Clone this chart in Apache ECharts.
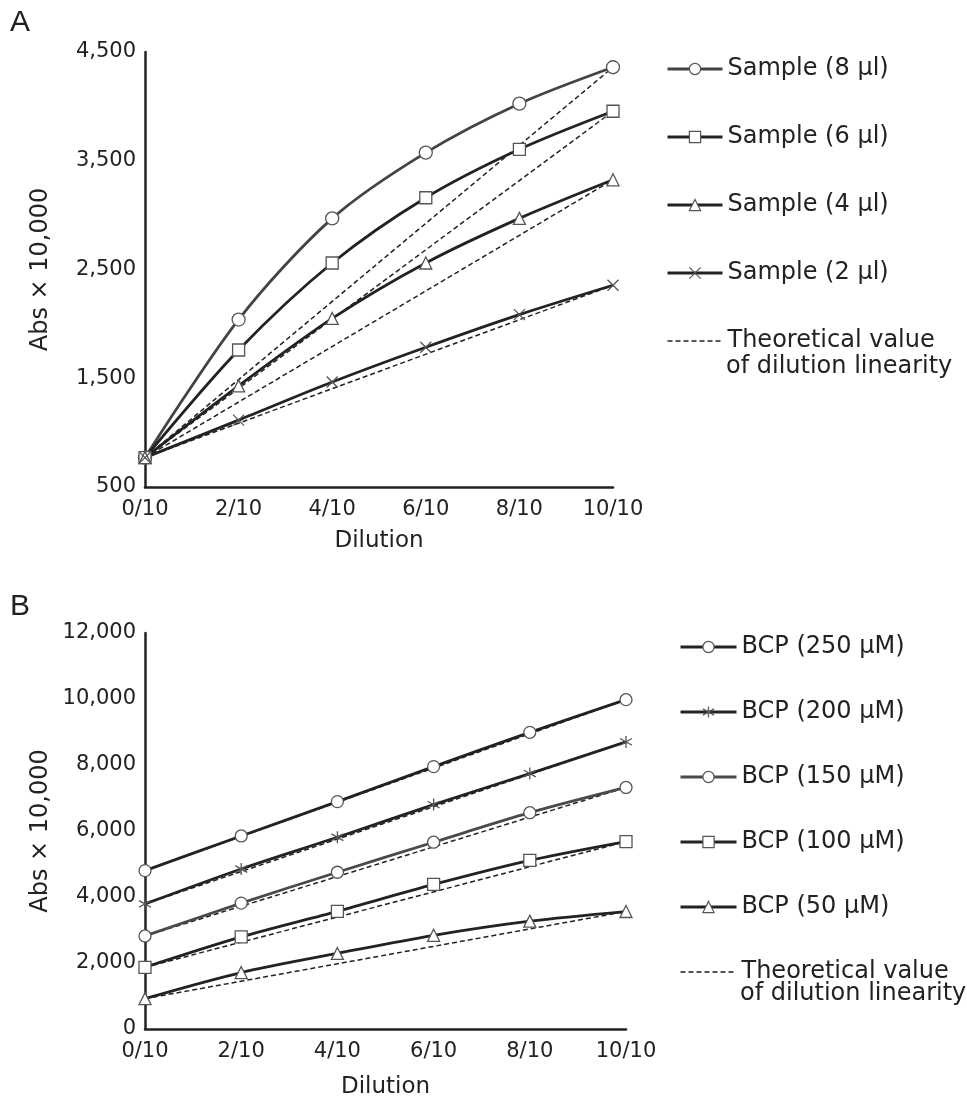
<!DOCTYPE html>
<html>
<head>
<meta charset="utf-8">
<script src="https://cdn.jsdelivr.net/npm/echarts@6/dist/echarts.min.js"></script>
<style>
  html, body { margin: 0; padding: 0; background: #ffffff; }
  #chart { width: 967px; height: 1100px; }
</style>
</head>
<body>
<div id="chart"></div>
<script>
// Dilution steps shared by both panels
const dilutions = ['0/10', '2/10', '4/10', '6/10', '8/10', '10/10'];

// Panel A – sample volume series (Abs × 10,000)
const sample8 = [770, 2040, 2970, 3575, 4025, 4360];
const sample6 = [770, 1760, 2560, 3160, 3605, 3955];
const sample4 = [770, 1430, 2050, 2560, 2970, 3325];
const sample2 = [770, 1115, 1465, 1785, 2085, 2355];
const namesA = ['Sample (8 µl)', 'Sample (6 µl)', 'Sample (4 µl)', 'Sample (2 µl)'];
const ticksA = [500, 1500, 2500, 3500, 4500];

// Panel B – BCP concentration series (Abs × 10,000)
const bcp250 = [4800, 5850, 6890, 7950, 8990, 9980];
const bcp200 = [3790, 4850, 5810, 6800, 7740, 8700];
const bcp150 = [2820, 3815, 4750, 5660, 6555, 7320];
const bcp100 = [1870, 2790, 3565, 4380, 5110, 5680];
const bcp50 = [920, 1710, 2290, 2840, 3270, 3560];
const namesB = ['BCP (250 µM)', 'BCP (200 µM)', 'BCP (150 µM)', 'BCP (100 µM)', 'BCP (50 µM)'];
const ticksB = [0, 2000, 4000, 6000, 8000, 10000, 12000];

const THEO = 'Theoretical value';
const THEO_2 = 'of dilution linearity';

const FONT = 'DejaVu Sans';
const INK = '#222222';
const MARK = '#555555';

const SYM_X = 'path://M0,0L10,10M10,0L0,10';
const SYM_STAR = 'path://M5,0L5,10M0,2.2L10,7.8M0,7.8L10,2.2';

function measured(name, data, symbol, size, lineColor, idx) {
  return {
    type: 'line', name, data,
    xAxisIndex: idx, yAxisIndex: idx,
    smooth: 0.3,
    symbol, symbolSize: size, showSymbol: true,
    lineStyle: { color: lineColor, width: 2.8 },
    itemStyle: { color: '#ffffff', borderColor: MARK, borderWidth: 1.3 },
    z: 4, silent: true, animation: false
  };
}

// Straight dashed reference joining the first and last measured points
function theoretical(data, idx) {
  const d = data.map((v, i) => (i === 0 || i === data.length - 1) ? v : null);
  return {
    type: 'line', name: THEO, data: d, connectNulls: true,
    xAxisIndex: idx, yAxisIndex: idx,
    symbol: 'none',
    lineStyle: { color: INK, width: 1.5, type: [5, 3] },
    itemStyle: { opacity: 0 },
    z: 3, silent: true, animation: false
  };
}

function xAxis(idx, gap) {
  return {
    type: 'category', gridIndex: idx, data: dilutions, boundaryGap: false,
    axisLine: { lineStyle: { color: INK, width: 2.5 } },
    axisTick: { show: false },
    axisLabel: { interval: 0, fontFamily: FONT, fontSize: 21, color: INK, margin: 12 },
    splitLine: { show: false },
    name: 'Dilution', nameLocation: 'middle', nameGap: gap,
    nameTextStyle: { fontFamily: FONT, fontSize: 23, color: INK }
  };
}

function yAxis(idx, ticks) {
  return {
    type: 'value', gridIndex: idx,
    min: ticks[0], max: ticks[ticks.length - 1], interval: ticks[1] - ticks[0],
    axisLine: { show: true, lineStyle: { color: INK, width: 2.5 } },
    axisTick: { show: false },
    splitLine: { show: false },
    axisLabel: {
      fontFamily: FONT, fontSize: 21, color: INK, margin: 9,
      formatter: v => v.toLocaleString('en-US')
    },
    name: 'Abs × 10,000', nameLocation: 'middle', nameGap: 92,
    nameTextStyle: { fontFamily: FONT, fontSize: 24, color: INK }
  };
}

const legendText = { fontFamily: FONT, fontSize: 24, lineHeight: 26, color: INK };

function legendItems(names) {
  return [
    ...names,
    { name: THEO, lineStyle: { width: 1.5 } }
  ];
}

const option = {
  backgroundColor: '#ffffff',
  animation: false,
  grid: [
    { left: 145, right: 354, top: 52, bottom: 613 },
    { left: 145, right: 341, top: 633, bottom: 63 }
  ],
  xAxis: [xAxis(0, 43), xAxis(1, 47)],
  yAxis: [yAxis(0, ticksA), yAxis(1, ticksB)],
  legend: [
    {
      orient: 'vertical', left: 666, top: 56, padding: 0,
      itemWidth: 55, itemHeight: 14, itemGap: 42,
      selectedMode: false,
      lineStyle: { width: 3 },
      itemStyle: { borderWidth: 1.2 },
      data: legendItems(namesA),
      textStyle: legendText
    },
    {
      orient: 'vertical', left: 679, top: 634, padding: 0,
      itemWidth: 56, itemHeight: 14, itemGap: 39,
      selectedMode: false,
      lineStyle: { width: 3 },
      itemStyle: { borderWidth: 1.2 },
      data: legendItems(namesB),
      textStyle: legendText
    }
  ],
  graphic: [
    { type: 'text', left: 10, top: 8, style: { text: 'A', font: '30px "Liberation Sans"', fill: INK } },
    { type: 'text', left: 10, top: 592, style: { text: 'B', font: '30px "Liberation Sans"', fill: INK } },
    { type: 'text', left: 726, top: 355, style: { text: THEO_2, font: '24px "DejaVu Sans"', fill: INK } },
    { type: 'text', left: 740, top: 982, style: { text: THEO_2, font: '24px "DejaVu Sans"', fill: INK } }
  ],
  series: [
    theoretical(sample8, 0), theoretical(sample6, 0), theoretical(sample4, 0), theoretical(sample2, 0),
    measured(namesA[0], sample8, 'circle', 13, '#444444', 0),
    measured(namesA[1], sample6, 'rect', 12, INK, 0),
    measured(namesA[2], sample4, 'triangle', 12, INK, 0),
    measured(namesA[3], sample2, SYM_X, 11, INK, 0),

    theoretical(bcp250, 1), theoretical(bcp200, 1), theoretical(bcp150, 1), theoretical(bcp100, 1), theoretical(bcp50, 1),
    measured(namesB[0], bcp250, 'circle', 12, INK, 1),
    measured(namesB[1], bcp200, SYM_STAR, 12, INK, 1),
    measured(namesB[2], bcp150, 'circle', 12, '#4a4a4a', 1),
    measured(namesB[3], bcp100, 'rect', 12, INK, 1),
    measured(namesB[4], bcp50, 'triangle', 12, INK, 1)
  ]
};

const chart = echarts.init(document.getElementById('chart'), null, { renderer: 'canvas' });
chart.setOption(option);
</script>
</body>
</html>
